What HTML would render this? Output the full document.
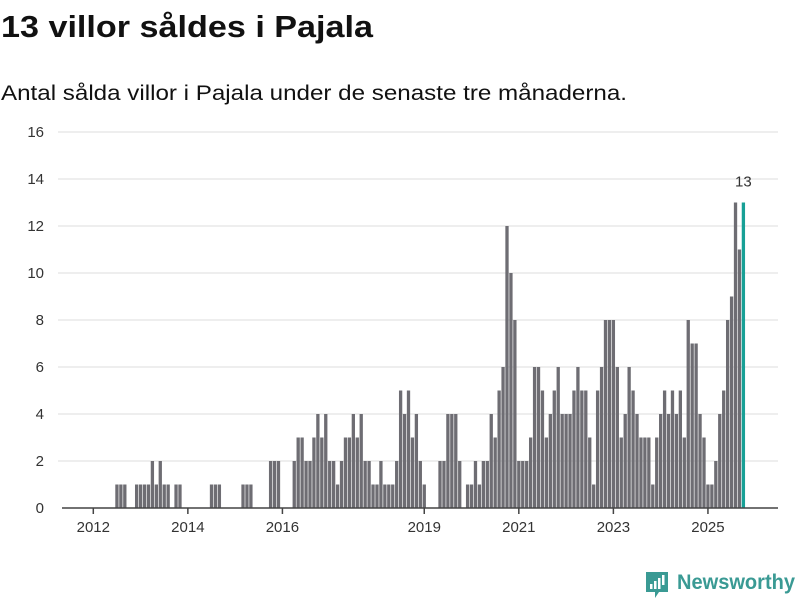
<!DOCTYPE html>
<html><head><meta charset="utf-8"><style>
body{margin:0;background:#fff;}
svg{display:block;font-family:"Liberation Sans","DejaVu Sans",sans-serif;}
</style></head><body>
<svg id="chart" width="800" height="600" viewBox="0 0 800 600" xmlns="http://www.w3.org/2000/svg">
<text x="1" y="37" font-size="31" font-weight="bold" fill="#111" textLength="372" lengthAdjust="spacingAndGlyphs">13 villor såldes i Pajala</text>
<text x="1" y="100" font-size="21" fill="#111" textLength="626" lengthAdjust="spacingAndGlyphs">Antal sålda villor i Pajala under de senaste tre månaderna.</text>
<g id="grid"></g>
<g id="bars"></g>
<g id="xaxis"></g>
<g>
<path d="M646 572 h22 v20 h-9 l-4 6 v-6 h-9 z" fill="#3a9a94"/>
<rect x="650" y="584" width="2.5" height="5" fill="#fff"/>
<rect x="654" y="581" width="2.5" height="8" fill="#fff"/>
<rect x="658" y="578" width="2.5" height="11" fill="#fff"/>
<rect x="662" y="575" width="2.5" height="10" fill="#fff"/>
<text x="677" y="589" font-size="21" font-weight="bold" fill="#3a9a94" textLength="118" lengthAdjust="spacingAndGlyphs">Newsworthy</text>
</g>
</svg>
<script>
const values = [0,0,0,0,0,0,1,1,1,0,0,1,1,1,1,2,1,2,1,1,0,1,1,0,0,0,0,0,0,0,1,1,1,0,0,0,0,0,1,1,1,0,0,0,0,2,2,2,0,0,0,2,3,3,2,2,3,4,3,4,2,2,1,2,3,3,4,3,4,2,2,1,1,2,1,1,1,2,5,4,5,3,4,2,1,0,0,0,2,2,4,4,4,2,0,1,1,2,1,2,2,4,3,5,6,12,10,8,2,2,2,3,6,6,5,3,4,5,6,4,4,4,5,6,5,5,3,1,5,6,8,8,8,6,3,4,6,5,4,3,3,3,1,3,4,5,4,5,4,5,3,8,7,7,4,3,1,1,2,4,5,8,9,13,11,13];
const startYear = 2012;
const yTicks = [0,2,4,6,8,10,12,14,16];
const xTickYears = [2012,2014,2016,2019,2021,2023,2025];
const NS='http://www.w3.org/2000/svg';
const yBase=508, yUnit=23.5, x0=93.3, monthW=3.94;
function ys(v){return yBase - v*yUnit;}
function xs(m){return x0 + m*monthW;}
function mk(tag, attrs, parent){const e=document.createElementNS(NS,tag);for(const k in attrs)e.setAttribute(k,attrs[k]);parent.appendChild(e);return e;}
const grid=document.getElementById('grid'), bars=document.getElementById('bars'), xa=document.getElementById('xaxis');
yTicks.forEach(t=>{
  if(t>0){const l=mk('line',{x1:58,x2:778,y1:ys(t),y2:ys(t),stroke:'#dcdcdc','stroke-width':1},grid);
  
  }
  const tx=mk('text',{x:44,y:ys(t)+5,'text-anchor':'end','font-size':15,fill:'#333'},grid);
  tx.textContent=t;
  
  
});
const last=values.length-1;
values.forEach((v,i)=>{
  if(v<=0)return;
  const r=mk('rect',{x:xs(i)-1.65,y:ys(v),width:3.3,height:v*yUnit,fill:i===last?'#17a096':'#6e6d73'},bars);
  
  
});
const lbl=mk('text',{x:xs(last),y:ys(values[last])-16,'text-anchor':'middle','font-size':15,fill:'#333'},bars);
lbl.textContent=values[last];


const ax=mk('line',{x1:62,x2:778,y1:yBase,y2:yBase,stroke:'#444','stroke-width':1.5},xa);


xTickYears.forEach(yr=>{
  const x=xs((yr-startYear)*12);
  const tk=mk('line',{x1:x,x2:x,y1:yBase,y2:yBase+6,stroke:'#444','stroke-width':1.5},xa);
  
  
  const tx=mk('text',{x:x,y:yBase+24,'text-anchor':'middle','font-size':15,fill:'#333'},xa);
  tx.textContent=yr;
  
  
});
</script>
</body></html>
